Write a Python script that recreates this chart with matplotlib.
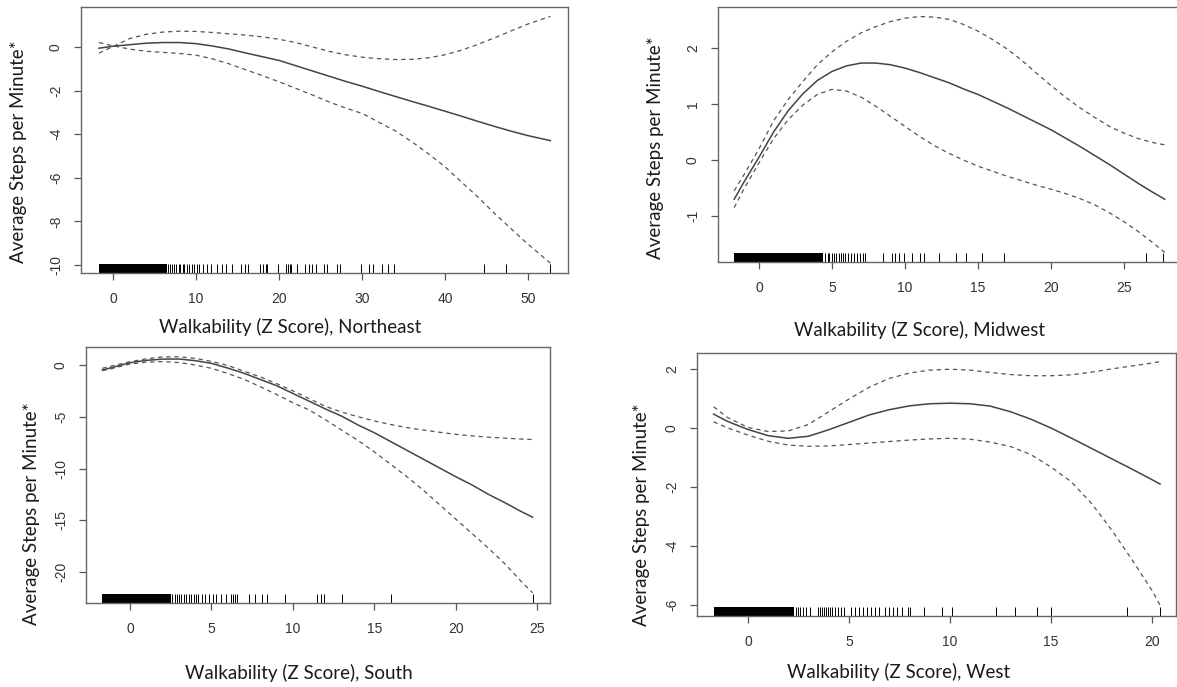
import numpy as np
import matplotlib.pyplot as plt

# Northeast
ne_x = [-1.7, 0, 2, 4, 6, 8, 10, 12, 14, 16, 18, 20, 22, 24, 26, 28, 30, 32, 34, 36, 38, 40, 42, 44, 46, 48, 50, 52.7]
ne_fit = [-0.06, 0.03, 0.1, 0.17, 0.2, 0.2, 0.15, 0.04, -0.1, -0.28, -0.45, -0.62, -0.86, -1.1, -1.34, -1.58, -1.8, -2.04,
          -2.27, -2.5, -2.72, -2.95, -3.18, -3.42, -3.65, -3.87, -4.07, -4.3]
ne_upper = [-0.29, 0.02, 0.38, 0.58, 0.68, 0.72, 0.71, 0.66, 0.6, 0.54, 0.46, 0.35, 0.2, 0.0, -0.2, -0.36, -0.47, -0.54,
            -0.58, -0.57, -0.5, -0.36, -0.15, 0.12, 0.42, 0.74, 1.05, 1.4]
ne_lower = [0.2, 0.05, -0.1, -0.2, -0.25, -0.3, -0.38, -0.55, -0.78, -1.05, -1.32, -1.6, -1.9, -2.2, -2.52, -2.8, -3.05,
            -3.45, -3.85, -4.35, -4.9, -5.5, -6.2, -6.9, -7.65, -8.35, -9.05, -9.92]
ne_rug_dense = (-1.7, 6.5)
ne_rug = [6.6, 6.9, 7.1, 7.4, 7.6, 7.9, 8.1, 8.4, 8.6, 8.9, 9.2, 9.5, 9.8, 10.1, 10.4, 10.9, 11.3, 11.8, 12.5, 13.1,
          13.6, 14.3, 15.4, 15.9, 16.3, 17.7, 18.1, 18.4, 18.6, 19.9, 20.9, 21.1, 21.3, 21.5, 22.2, 23.1, 23.6, 24.0,
          24.5, 25.4, 25.8, 27.0, 27.4, 29.9, 30.8, 31.3, 32.4, 33.1, 33.8, 44.7, 47.4, 52.6]

# Midwest
mw_x = [-1.7, -1, 0, 1, 2, 3, 4, 5, 6, 7, 8, 9, 10, 11, 12, 13, 14, 15, 16, 17, 18, 19, 20, 21, 22, 23, 24, 25, 26, 27, 27.8]
mw_fit = [-0.7, -0.38, 0.05, 0.5, 0.88, 1.18, 1.42, 1.58, 1.68, 1.73, 1.73, 1.7, 1.64, 1.56, 1.47, 1.38, 1.27, 1.17,
          1.05, 0.93, 0.8, 0.67, 0.54, 0.39, 0.24, 0.08, -0.08, -0.25, -0.42, -0.58, -0.7]
mw_upper = [-0.55, -0.25, 0.2, 0.7, 1.08, 1.4, 1.7, 1.93, 2.12, 2.27, 2.38, 2.47, 2.53, 2.56, 2.55, 2.51, 2.42, 2.3,
            2.15, 1.98, 1.78, 1.55, 1.33, 1.12, 0.93, 0.76, 0.6, 0.48, 0.38, 0.31, 0.27]
mw_lower = [-0.85, -0.5, -0.05, 0.38, 0.72, 0.98, 1.17, 1.26, 1.23, 1.12, 0.96, 0.78, 0.6, 0.42, 0.26, 0.12, 0.0, -0.11,
            -0.2, -0.29, -0.37, -0.45, -0.52, -0.6, -0.69, -0.8, -0.94, -1.1, -1.28, -1.48, -1.65]
mw_rug_dense = (-1.7, 4.4)
mw_rug = [4.55, 4.7, 4.8, 5.0, 5.15, 5.3, 5.5, 5.6, 5.75, 5.9, 6.1, 6.3, 6.5, 6.7, 6.9, 7.1, 7.25, 8.5, 9.1, 9.3, 9.6,
          9.95, 10.5, 11.0, 11.3, 12.3, 13.5, 14.2, 15.3, 16.8, 26.5, 27.7]

# South
so_x = [-1.7, -1, 0, 1, 2, 3, 4, 5, 6, 7, 8, 9, 10, 11, 12, 13, 14, 15, 16, 17, 18, 19, 20, 21, 22, 23, 24, 24.7]
so_fit = [-0.48, -0.2, 0.22, 0.45, 0.57, 0.58, 0.42, 0.16, -0.3, -0.8, -1.4, -2.0, -2.75, -3.5, -4.25, -4.95, -5.8,
          -6.55, -7.4, -8.25, -9.1, -9.95, -10.8, -11.6, -12.5, -13.3, -14.15, -14.7]
so_upper = [-0.32, -0.05, 0.32, 0.6, 0.78, 0.8, 0.64, 0.35, -0.05, -0.6, -1.15, -1.8, -2.5, -3.25, -4.0, -4.55, -5.0,
            -5.4, -5.75, -6.05, -6.28, -6.5, -6.7, -6.85, -6.97, -7.07, -7.15, -7.2]
so_lower = [-0.55, -0.3, 0.1, 0.28, 0.33, 0.24, 0.0, -0.32, -0.82, -1.38, -2.1, -2.85, -3.65, -4.35, -5.3, -6.3, -7.3,
            -8.4, -9.6, -10.8, -12.1, -13.5, -14.9, -16.3, -17.7, -19.2, -20.9, -22.0]
so_rug_dense = (-1.7, 2.5)
so_rug = [2.6, 2.75, 2.9, 3.0, 3.15, 3.3, 3.45, 3.6, 3.75, 3.9, 4.05, 4.2, 4.4, 4.6, 4.85, 5.1, 5.3, 5.6, 5.9, 6.2,
          6.35, 6.45, 6.55, 7.3, 7.7, 8.1, 8.4, 9.5, 11.5, 11.7, 11.9, 13.0, 16.0, 24.7]

# West
we_x = [-1.7, -1, 0, 1, 2, 3, 4, 5, 6, 7, 8, 9, 10, 11, 12, 13, 14, 15, 16, 17, 18, 19, 20, 20.4]
we_fit = [0.47, 0.22, -0.05, -0.26, -0.35, -0.28, -0.06, 0.19, 0.44, 0.62, 0.75, 0.82, 0.84, 0.82, 0.74, 0.55, 0.3,
          0.0, -0.34, -0.69, -1.04, -1.39, -1.75, -1.9]
we_upper = [0.72, 0.35, 0.02, -0.12, -0.1, 0.12, 0.55, 0.98, 1.38, 1.68, 1.86, 1.96, 1.99, 1.96, 1.88, 1.81, 1.77,
            1.77, 1.8, 1.89, 2.0, 2.1, 2.2, 2.25]
we_lower = [0.21, 0.0, -0.24, -0.45, -0.58, -0.62, -0.61, -0.56, -0.51, -0.46, -0.41, -0.37, -0.35, -0.38, -0.48,
            -0.63, -0.9, -1.32, -1.82, -2.55, -3.45, -4.45, -5.5, -6.0]
we_rug_dense = (-1.7, 2.3)
we_rug = [2.4, 2.5, 2.6, 2.75, 2.9, 3.05, 3.45, 3.55, 3.65, 3.75, 3.85, 3.95, 4.05, 4.15, 4.3, 4.45, 4.6, 4.75, 5.1,
          5.3, 5.5, 5.7, 5.9, 6.1, 6.3, 6.5, 6.8, 7.0, 7.2, 7.4, 7.65, 7.9, 8.0, 8.7, 9.6, 10.1, 12.3, 13.2, 14.3,
          15.0, 18.75, 20.4]

W, H = 1177, 687
fig = plt.figure(figsize=(W / 100, H / 100), dpi=100)

panels = [
    # name, box px (left, top, right, bottom), xlim, ylim, xticks, yticks, data, xlabel pos, ylabel pos
    ('Northeast', (81, 7, 568, 273), (-3.86, 54.82), (-10.37, 1.83), [0, 10, 20, 30, 40, 50], [0, -2, -4, -6, -8, -10],
     (ne_x, ne_fit, ne_upper, ne_lower, ne_rug_dense, ne_rug), (290, 327), (19, 152)),
    ('Midwest', (718, 7, 1182, 262), (-2.81, 28.98), (-1.82, 2.73), [0, 5, 10, 15, 20, 25], [-1, 0, 1, 2],
     (mw_x, mw_fit, mw_upper, mw_lower, mw_rug_dense, mw_rug), (919, 330), (655, 148)),
    ('South', (86, 347, 550, 603), (-2.7, 25.77), (-22.99, 1.74), [0, 5, 10, 15, 20, 25], [0, -5, -10, -15, -20],
     (so_x, so_fit, so_upper, so_lower, so_rug_dense, so_rug), (299, 673), (32, 514)),
    ('West', (697, 353, 1176, 616), (-2.52, 21.19), (-6.37, 2.54), [0, 5, 10, 15, 20], [2, 0, -2, -4, -6],
     (we_x, we_fit, we_upper, we_lower, we_rug_dense, we_rug), (899, 672), (642, 515)),
]

label_font = dict(family='Lato', size=13.5, color='#1a1a1a')

for name, box, xlim, ylim, xt, yt, data, xl_pos, yl_pos in panels:
    l, t, r, b = box
    ax = fig.add_axes([l / W, 1 - b / H, (r - l) / W, (b - t) / H])
    x, fit, up, lo, dense, rug = data
    ax.plot(x, fit, color='#444444', lw=1.1)
    ax.plot(x, up, color='#555555', lw=0.9, dashes=(3.5, 3))
    ax.plot(x, lo, color='#555555', lw=0.9, dashes=(3.5, 3))
    ax.axvspan(dense[0], dense[1], ymin=0, ymax=0.035, color='black', lw=0)
    ax.vlines(rug, 0, 0.035, transform=ax.get_xaxis_transform(), color='black', lw=0.7)
    ax.set_xlim(*xlim)
    ax.set_ylim(*ylim)
    ax.set_xticks(xt)
    ax.set_yticks(yt)
    ax.set_xticklabels([str(v) for v in xt], family='Liberation Sans', fontsize=10, color='#333333')
    ax.set_yticklabels([str(v) for v in yt], family='Liberation Sans', fontsize=10, color='#333333',
                       rotation=90, va='center')
    ax.tick_params(length=5, width=0.9, color='#555555')
    ax.tick_params(axis='x', pad=9)
    ax.tick_params(axis='y', pad=8)
    for s in ax.spines.values():
        s.set_color('#666666')
        s.set_linewidth(1.0)
    fig.text(xl_pos[0] / W, 1 - xl_pos[1] / H, 'Walkability (Z Score), ' + name,
             ha='center', va='center', **label_font)
    fig.text(yl_pos[0] / W, 1 - yl_pos[1] / H, 'Average Steps per Minute*',
             ha='center', va='center', rotation=90, **label_font)

fig.savefig('out.png', dpi=100)
